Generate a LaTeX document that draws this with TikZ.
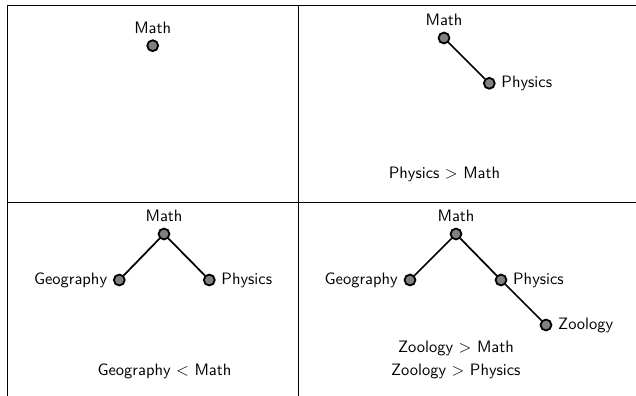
\documentclass[tikz,border=0pt]{standalone}
\begin{document}
\begin{tikzpicture}[x=0.606pt,y=-0.606pt,
  vert/.style={circle,draw,fill=gray,line width=1.1pt,minimum size=6.6pt,inner sep=0pt},
  edge/.style={line width=1.05pt},
  grid/.style={line width=0.6pt},
  every node/.append style={font=\sffamily},
  every label/.append style={font=\sffamily}]
\useasboundingbox (0,0) rectangle (636,396);
% table lines
\coordinate (tl) at (7,5.5);
\coordinate (tr) at (636,5.5);
\coordinate (bl) at (7,396);
\coordinate (tm) at (298,5.5);
\coordinate (bm) at (298,396);
\coordinate (ml) at (7,202);
\coordinate (mr) at (636,202);
\draw[grid] (tr) -- (tl) -- (bl);
\draw[grid] (tm) -- (bm);
\draw[grid] (ml) -- (mr);
% panel 1
\node[vert,label=above:Math] (a1) at (152.7,45.7) {};
% panel 2
\node[vert,label=above:Math] (b1) at (444,38) {};
\node[vert,label=right:Physics] (b2) at (489.3,83.3) {};
\draw[edge] (b1) -- (b2);
\node[anchor=base] (bt) at (444.5,178.5) {Physics $>$ Math};
% panel 3
\node[vert,label=above:Math] (c1) at (164,234) {};
\node[vert,label=left:Geography] (c2) at (119.3,280) {};
\node[vert,label=right:Physics] (c3) at (209.3,280) {};
\draw[edge] (c2) -- (c1) -- (c3);
\node[anchor=base] (ct) at (164.5,375.7) {Geography $<$ Math};
% panel 4
\node[vert,label=above:Math] (d1) at (456,234) {};
\node[vert,label=left:Geography] (d2) at (410,280) {};
\node[vert,label=right:Physics] (d3) at (501,280) {};
\node[vert,label=right:Zoology] (d4) at (546,325) {};
\draw[edge] (d2) -- (d1) -- (d3) -- (d4);
\node[anchor=base] (dt1) at (456,352.3) {Zoology $>$ Math};
\node[anchor=base] (dt2) at (455.8,375.7) {Zoology $>$ Physics};
\end{tikzpicture}
\end{document}
